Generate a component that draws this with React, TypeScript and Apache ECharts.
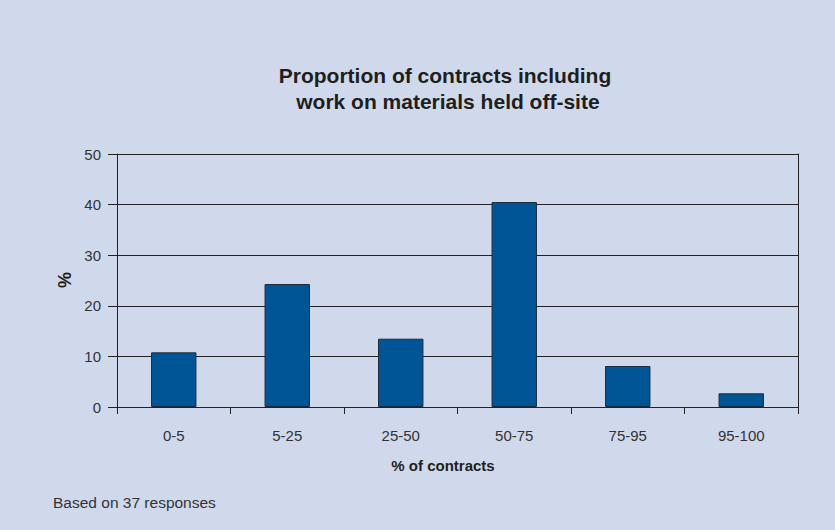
import React, { useEffect, useRef } from "react";
import * as echarts from "echarts";

const categories = ["0-5", "5-25", "25-50", "50-75", "75-95", "95-100"];
const values = [10.8, 24.3, 13.5, 40.5, 8.1, 2.7];
const titleText = "Proportion of contracts including\n work on materials held off-site";
const xAxisName = "% of contracts";
const yAxisName = "%";
const footnote = "Based on 37 responses";

export default function App() {
  const ref = useRef<HTMLDivElement>(null);
  useEffect(() => {
    const chart = echarts.init(ref.current!, null, { renderer: "svg" });
    const font = "Liberation Sans, Arial, Helvetica, sans-serif";
    chart.setOption({
      animation: false,
      backgroundColor: "#d0d9eb",
      textStyle: { fontFamily: font },
      title: {
        text: titleText,
        left: 440,
        top: 57,
        textAlign: "center",
        textStyle: { fontSize: 21, fontWeight: "bold", color: "#1e1e1e", lineHeight: 26, fontFamily: font },
      },
      graphic: [
        {
          type: "text",
          x: 443,
          y: 465,
          style: {
            text: xAxisName,
            fontSize: 15,
            fontWeight: "bold",
            fill: "#1e1e1e",
            fontFamily: font,
            align: "center",
            verticalAlign: "middle",
          },
        },
        {
          type: "text",
          x: 65,
          y: 280,
          rotation: Math.PI / 2,
          style: {
            text: yAxisName,
            fontSize: 18,
            fontWeight: "bold",
            fill: "#1e1e1e",
            fontFamily: font,
            align: "center",
            verticalAlign: "middle",
          },
        },
        {
          type: "text",
          x: 53,
          y: 502,
          style: {
            text: footnote,
            fontSize: 15.5,
            fill: "#333",
            fontFamily: font,
            verticalAlign: "middle",
          },
        },
      ],
      grid: { left: 117, right: 37, top: 154, bottom: 123 },
      xAxis: {
        type: "category",
        data: categories,
        boundaryGap: true,
        axisLine: { lineStyle: { color: "#222", width: 1 } },
        axisTick: { show: true, length: 7, lineStyle: { color: "#222" } },
        axisLabel: { fontSize: 15, color: "#333", margin: 21 },
      },
      yAxis: [
        {
          type: "value",
          min: 0,
          max: 50,
          interval: 10,
          axisLine: { show: true, lineStyle: { color: "#222", width: 1 } },
          axisTick: { show: true, length: 9, lineStyle: { color: "#222" } },
          axisLabel: { fontSize: 15, color: "#333", margin: 16 },
          splitLine: { show: true, lineStyle: { color: "#222", width: 1 } },
        },
        {
          type: "value",
          min: 0,
          max: 50,
          interval: 10,
          position: "right",
          axisLine: { show: true, lineStyle: { color: "#222", width: 1 } },
          axisTick: { show: false },
          axisLabel: { show: false },
          splitLine: { show: false },
        },
      ],
      series: [
        {
          type: "bar",
          data: values,
          barWidth: "40%",
          itemStyle: { color: "#005596", borderColor: "#1c2b3c", borderWidth: 1 },
        },
      ],
    });
    return () => chart.dispose();
  }, []);
  return <div ref={ref} style={{ position: "absolute", left: 0, top: 0, width: 835, height: 530 }} />;
}
